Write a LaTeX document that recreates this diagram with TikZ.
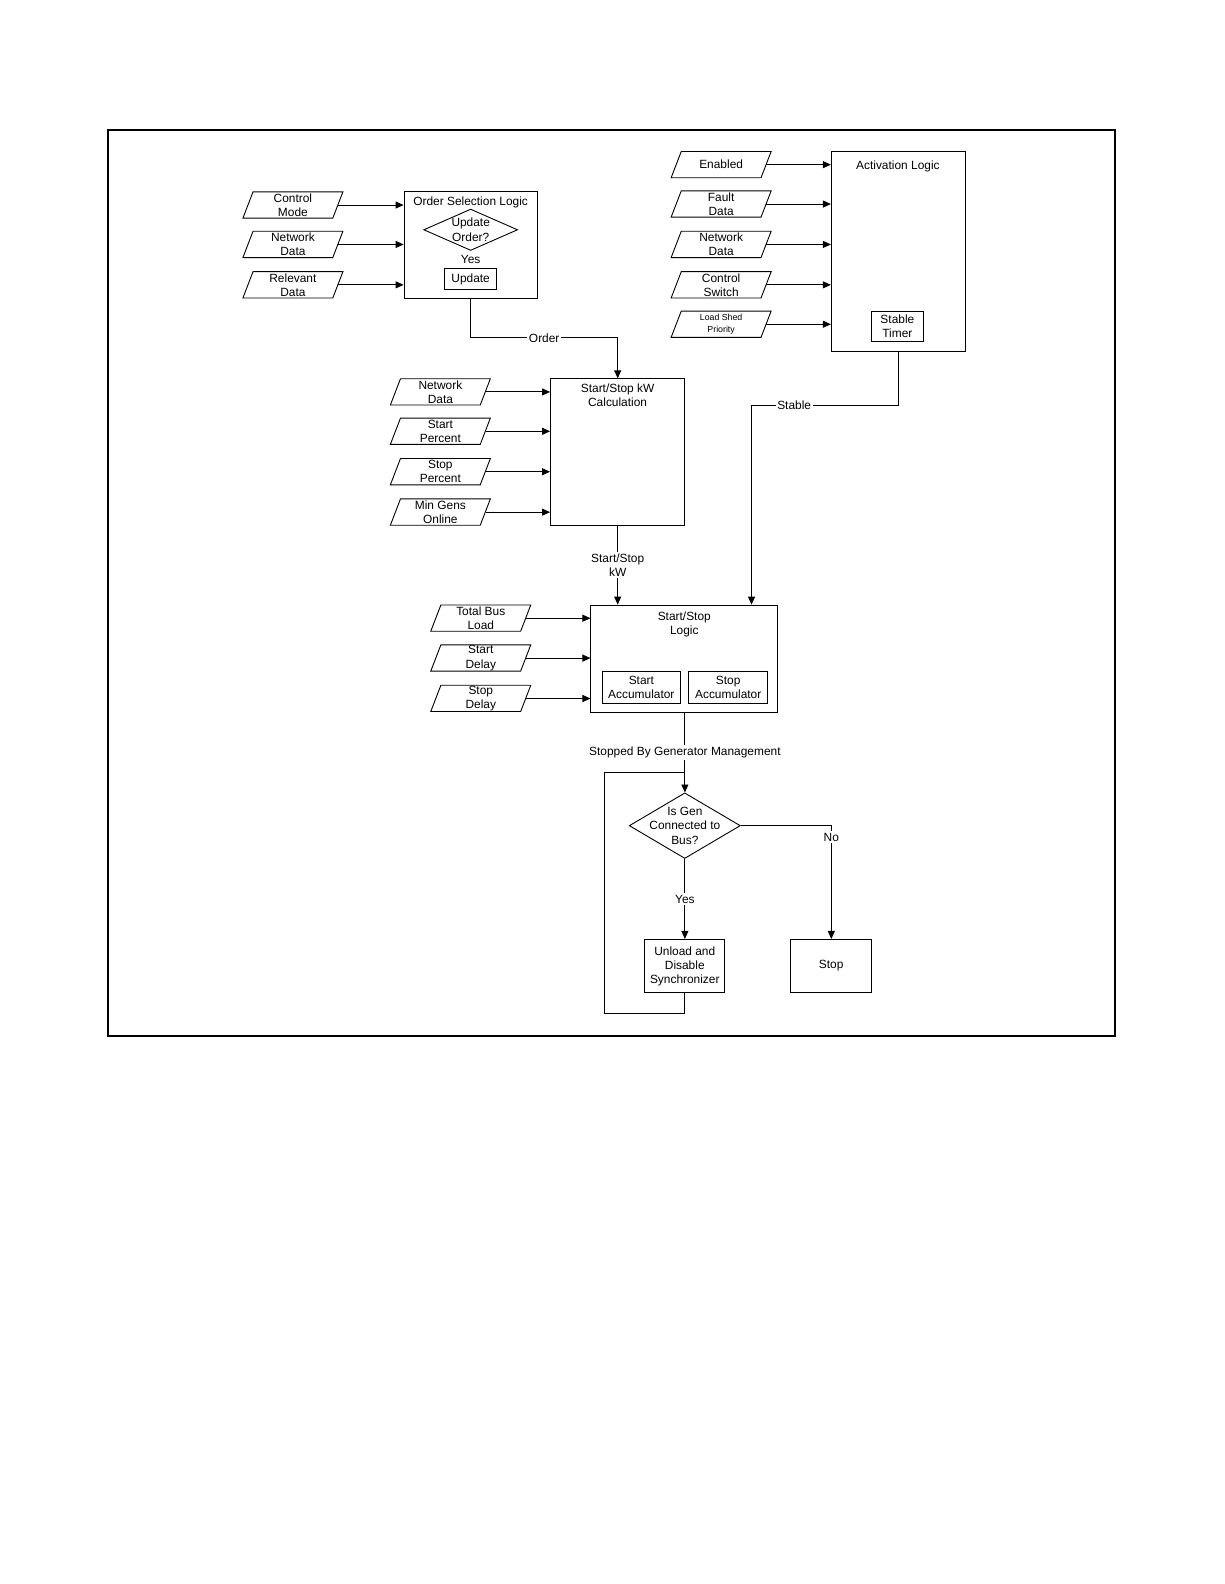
\documentclass[tikz,border=0pt]{standalone}
\usepackage{fontspec}
\setmainfont{Liberation Sans}
\usetikzlibrary{arrows.meta,shapes.geometric,positioning}
\tikzset{
  ln/.style={line width=0.9pt,draw=black},
  arr/.style={ln,-{Triangle[length=8pt,width=7pt]}},
  box/.style={ln,rectangle,inner sep=0pt},
  txt/.style={align=center,inner sep=1pt,font=\fontsize{11.8}{14}\selectfont},
  small/.style={align=center,inner sep=1pt,font=\fontsize{8.7}{11}\selectfont},
  lbl/.style={txt,fill=white,inner sep=1.5pt},
  ptext/.style={rectangle,minimum width=89pt,minimum height=26pt,inner sep=0pt,align=center}
}
% parallelogram: [style] name, cx, cy, text
\newcommand{\pgm}[5][txt]{%
  \draw[ln] (#3-49.5,#4+13) -- (#3+39.5,#4+13) -- (#3+49.5,#4-13) -- (#3-39.5,#4-13) -- cycle;
  \node[ptext,#1] (#2) at (#3,#4) {#5};
}
\begin{document}
\begin{tikzpicture}[x=1pt,y=-1pt]
\useasboundingbox (0,0) rectangle (1224,1584);
\fill[white] (0,0) rectangle (1224,1584);
\begin{scope}[scale=1.01,transform shape]
\draw[line width=1.6pt] (107,129) rectangle (1104,1026);

% ---------- Order selection logic ----------
\node[box,minimum width=132pt,minimum height=105pt] (osl) at (466,242.5) {};
\node[txt] (osltitle) at (466,200.5) {Order Selection Logic};
\node[ln,diamond,inner sep=0pt,minimum width=93pt,minimum height=41pt,
      label={[txt]center:Update\\Order?}] (d1) at (466,227.5) {};
\node[txt] (yes1) at (466,257) {Yes};
\node[box,minimum width=52pt,minimum height=21pt,txt] (upd) at (466,276.5) {Update};

\pgm{cm}{290}{203}{Control\\Mode}
\pgm{nda}{290}{242}{Network\\Data}
\pgm{rd}{290}{282}{Relevant\\Data}
\foreach \n in {cm,nda,rd} \draw[arr] (\n.east) -- (\n.east -| osl.west);

% ---------- Activation logic ----------
\node[box,minimum width=133pt,minimum height=198pt] (act) at (889.5,249) {};
\node[txt] (acttitle) at (889,164.5) {Activation Logic};
\node[box,txt,minimum width=51pt,minimum height=30pt] (st) at (888.5,323) {Stable\\Timer};

\pgm{en}{714}{163}{Enabled}
\pgm{fd}{714}{202}{Fault\\Data}
\pgm{ndb}{714}{242}{Network\\Data}
\pgm{cs}{714}{282}{Control\\Switch}
\pgm[small]{ls}{714}{321}{Load Shed\\Priority}
\foreach \n in {en,fd,ndb,cs,ls} \draw[arr] (\n.east) -- (\n.east -| act.west);

% ---------- Start/Stop kW calculation ----------
\node[box,minimum width=133pt,minimum height=145pt] (calc) at (611.5,447.5) {};
\node[txt] (calctitle) at (611.5,391) {Start/Stop kW\\Calculation};

\pgm{ndc}{436}{388}{Network\\Data}
\pgm{sp}{436}{427}{Start\\Percent}
\pgm{stp}{436}{467}{Stop\\Percent}
\pgm{mg}{436}{507}{Min Gens\\Online}
\foreach \n in {ndc,sp,stp,mg} \draw[arr] (\n.east) -- (\n.east -| calc.west);

\draw[arr] (osl.south) -- ++(0,39) -| node[lbl,pos=0.25]{Order} (calc.north);

% ---------- Start/Stop logic ----------
\node[box,minimum width=185pt,minimum height=106pt] (logic) at (677.5,652) {};
\node[txt] (logictitle) at (677.5,618.5) {Start/Stop\\Logic};
\node[box,txt,minimum width=78pt,minimum height=31pt] (sacc) at (635,680.5) {Start\\Accumulator};
\node[box,txt,minimum width=78pt,minimum height=31pt] (pacc) at (721,680.5) {Stop\\Accumulator};

\pgm{tb}{476}{612}{Total Bus\\Load}
\pgm{sd}{476}{651.5}{Start\\Delay}
\pgm{sdl}{476}{691.5}{Stop\\Delay}
\foreach \n in {tb,sd,sdl} \draw[arr] (\n.east) -- (\n.east -| logic.west);

\draw[arr] (calc.south) -- node[lbl]{Start/Stop\\kW} (calc.south |- logic.north);
\draw[arr] (act.south) -- ++(0,53) -| node[lbl,pos=0.355]{Stable} ([xshift=66.5]logic.north);

% ---------- Stop decision ----------
\node[ln,diamond,inner sep=0pt,minimum width=110pt,minimum height=65pt,
      label={[txt]center:Is Gen\\Connected to\\Bus?}] (d2) at (678,817.5) {};
\node[box,txt,minimum width=79pt,minimum height=53pt] (unl) at (678,956.5) {Unload and\\Disable\\Synchronizer};
\node[box,txt,minimum width=80pt,minimum height=53pt] (stop) at (823,956.5) {Stop};

\coordinate (join) at (678,765);
\draw[arr] (logic.south -| d2.north) -- node[lbl]{Stopped By Generator Management} (d2.north);
\draw[arr] (d2.south) -- node[lbl]{Yes} (unl.north);
\draw[arr] (d2.east) -| node[lbl,pos=0.55]{No} (stop.north);
\draw[ln] (unl.south) -- ++(0,20) -| ([xshift=-80pt]join) -- (join);
\end{scope}
\end{tikzpicture}
\end{document}
